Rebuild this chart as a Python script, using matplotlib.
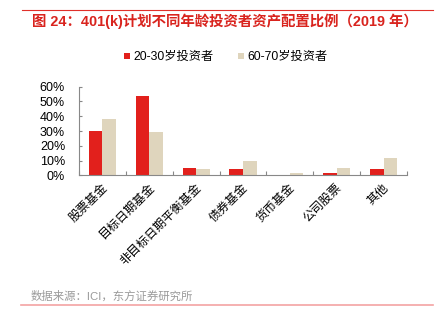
import numpy as np
import matplotlib.pyplot as plt
from matplotlib.lines import Line2D

plt.rcParams['font.family'] = ['Liberation Sans', 'Noto Sans CJK SC', 'DejaVu Sans']
mixed = ['Liberation Sans', 'Noto Sans CJK SC', 'DejaVu Sans']
cjk = ['Noto Sans CJK SC', 'DejaVu Sans']

# 各类资产占比（%）
categories = ['股票基金', '目标日期基金', '非目标日期平衡基金', '债券基金',
              '货币基金', '公司股票', '其他']
young = [30, 54, 5, 4, 0.2, 1.5, 4]
old = [38, 29, 4, 10, 1.5, 5, 12]
series_names = ['20-30岁投资者', '60-70岁投资者']
yticks = [0, 10, 20, 30, 40, 50, 60]

red = '#E2201C'
beige = '#DFD5BD'
axis_grey = '#888888'

fig = plt.figure(figsize=(4.38, 3.26), dpi=100)
W, H = 438, 326
ax = fig.add_axes([79 / W, 1 - 175.3 / H, (407 - 79) / W, (175.3 - 86.7) / H])

x = np.arange(len(categories))
bw = 0.29
b1 = ax.bar(x - bw / 2, young, bw, color=red, label=series_names[0])
b2 = ax.bar(x + bw / 2, old, bw, color=beige, label=series_names[1])

ax.set_xlim(-0.5, len(categories) - 0.5)
ax.set_ylim(0, 60)
ax.set_yticks(yticks)
ax.set_yticklabels([f'{v}%' for v in yticks], fontsize=9)

# 分类标签斜放
ax.set_xticks(x)
ax.set_xticklabels([])
for xi, lab in zip(x, categories):
    ax.annotate(lab, xy=(xi, 0), xycoords=('data', 'axes fraction'),
                xytext=(3, -10), textcoords='offset pixels',
                rotation=45, rotation_mode='anchor', ha='right', va='center',
                fontsize=8.7, family=cjk)
ax.tick_params(axis='x', length=0)
ax.set_xticks(np.arange(len(categories) + 1) - 0.5, minor=True)
ax.tick_params(axis='x', which='minor', direction='in', length=3,
               color=axis_grey, width=0.8)
ax.tick_params(axis='y', direction='in', length=2, color=axis_grey,
               width=0.8, pad=10)

for s in ['top', 'right']:
    ax.spines[s].set_visible(False)
for s in ['left', 'bottom']:
    ax.spines[s].set_color(axis_grey)
    ax.spines[s].set_linewidth(0.8)

# 标题与上下分隔线
fig.add_artist(Line2D([22 / W, 433 / W], [1 - 10.3 / H] * 2, color='#E0302A', lw=0.8))
fig.text(32 / W, 1 - 21.7 / H, '图 24：401(k)计划不同年龄投资者资产配置比例（2019 年）',
         color='#D9241E', fontsize=10.4, fontweight='bold', va='center', ha='left',
         family=mixed)

fig.legend(handles=[b1, b2], loc='center', bbox_to_anchor=(226 / W, 1 - 57.3 / H),
           ncol=2, frameon=False, handlelength=0.45, handleheight=0.45,
           handletextpad=0.3, columnspacing=2.0, borderpad=0,
           prop={'family': mixed, 'size': 8.8})

fig.text(31 / W, 1 - 296.5 / H, '数据来源：ICI，东方证券研究所', color='#9A9A9A',
         fontsize=8.2, va='center', ha='left', family=mixed)
fig.add_artist(Line2D([21 / W, 433 / W], [1 - 305.3 / H] * 2, color='#F4A3A3', lw=1.2))

fig.savefig('out.png', dpi=100)
